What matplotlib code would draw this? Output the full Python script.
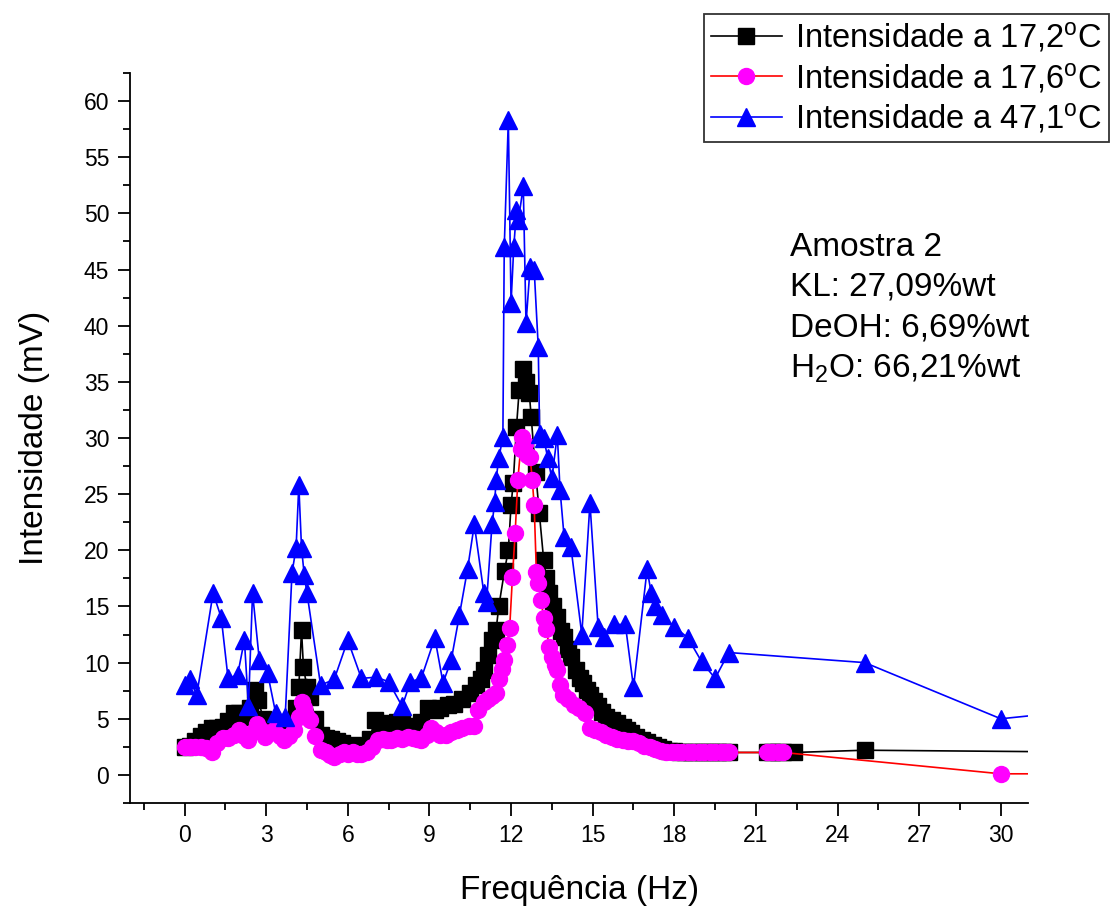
import matplotlib
matplotlib.use("Agg")
import matplotlib.pyplot as plt
from matplotlib.ticker import MultipleLocator

plt.rcParams['font.family'] = ['Liberation Sans', 'DejaVu Sans']
plt.rcParams['mathtext.fontset'] = 'custom'
plt.rcParams['mathtext.rm'] = 'Liberation Sans'
plt.rcParams['mathtext.it'] = 'Liberation Sans:italic'

# Intensidade a 17,2 oC (black squares)
freq_172 = [0.0, 0.2, 0.4, 0.6, 0.8, 1.0, 1.2, 1.4, 1.6, 1.8, 2.0, 2.2, 2.4, 2.6, 2.7,
            2.9, 3.1, 3.3, 3.5, 3.7, 3.9, 4.1, 4.2, 4.3, 4.37, 4.5, 4.6, 4.8, 5.0, 5.2,
            5.4, 5.6, 5.8, 6.0, 6.2, 6.4, 6.6, 6.8, 7.0, 7.2, 7.4, 7.6, 7.8, 8.0, 8.2,
            8.45, 8.7, 8.95, 9.2, 9.4, 9.7, 9.9, 10.2, 10.5, 10.7, 10.9, 11.0, 11.15, 11.3, 11.45,
            11.55, 11.76, 11.9, 12.0, 12.08, 12.2, 12.3, 12.45, 12.55, 12.67, 12.74, 12.9, 13.04, 13.2, 13.3,
            13.4, 13.55, 13.7, 13.85, 13.95, 14.1, 14.2, 14.4, 14.55, 14.65, 14.8, 14.9, 15.05, 15.2, 15.35,
            15.5, 15.7, 15.9, 16.1, 16.25, 16.4, 16.6, 16.8, 17.0, 17.2, 17.4, 17.6, 17.8, 18.0, 18.2,
            18.4, 18.6, 18.8, 19.0, 19.2, 19.4, 19.6, 19.8, 20.0, 21.4, 21.6, 21.8, 22.0, 22.4, 25.0,
            40.0]
int_172 = [2.5, 2.6, 3.0, 3.5, 3.8, 4.2, 4.2, 4.3, 4.8, 5.5, 5.5, 5.2, 6.0, 7.6, 6.7,
           5.0, 4.3, 4.6, 4.0, 4.4, 4.8, 6.0, 7.8, 12.9, 9.6, 7.8, 6.9, 5.0, 3.6, 3.3,
           3.2, 3.0, 2.8, 2.6, 2.7, 2.5, 2.6, 3.2, 4.9, 4.6, 4.3, 4.5, 4.7, 4.6, 4.3,
           4.4, 4.7, 6.0, 5.8, 6.0, 6.2, 6.3, 6.8, 7.3, 8.0, 8.5, 9.3, 10.7, 12.0, 12.9,
           15.0, 18.2, 20.0, 24.0, 26.0, 31.0, 34.3, 36.1, 35.0, 34.0, 31.9, 27.0, 23.3, 19.1, 17.5,
           16.2, 15.0, 14.1, 12.8, 12.3, 11.2, 10.5, 9.3, 8.6, 8.2, 7.6, 7.1, 6.6, 6.1, 5.6,
           5.2, 4.9, 4.6, 4.3, 4.0, 3.7, 3.4, 3.1, 2.9, 2.7, 2.5, 2.3, 2.1, 2.1, 2.0,
           2.0, 2.0, 2.0, 2.0, 2.0, 2.0, 2.0, 2.0, 2.0, 2.0, 2.0, 2.0, 2.0, 2.0, 2.2,
           1.9]

# Intensidade a 17,6 oC (magenta circles, red line)
freq_176 = [0.0, 0.2, 0.4, 0.6, 0.8, 1.0, 1.2, 1.4, 1.6, 1.8, 2.0, 2.2, 2.35, 2.5, 2.65,
            2.8, 2.95, 3.1, 3.3, 3.5, 3.67, 3.85, 4.04, 4.2, 4.3, 4.4, 4.48, 4.6, 4.8, 5.0,
            5.2, 5.35, 5.5, 5.7, 5.85, 6.0, 6.2, 6.35, 6.5, 6.7, 6.9, 7.1, 7.3, 7.45, 7.6,
            7.8, 8.0, 8.2, 8.4, 8.55, 8.7, 8.9, 9.07, 9.25, 9.4, 9.6, 9.8, 10.0, 10.2, 10.45,
            10.65, 10.8, 11.0, 11.15, 11.3, 11.45, 11.55, 11.65, 11.75, 11.85, 11.95, 12.05, 12.15, 12.25, 12.35,
            12.42, 12.5, 12.6, 12.7, 12.78, 12.85, 12.93, 13.0, 13.1, 13.2, 13.3, 13.4, 13.5, 13.6, 13.7,
            13.8, 13.9, 14.1, 14.3, 14.5, 14.7, 14.9, 15.1, 15.3, 15.5, 15.7, 15.9, 16.1, 16.3, 16.5,
            16.7, 16.9, 17.1, 17.3, 17.5, 17.7, 17.9, 18.1, 18.3, 18.5, 18.7, 18.9, 19.1, 19.3, 19.5,
            19.7, 19.85, 20.0, 21.4, 21.6, 21.8, 22.0, 30.0, 40.0]
int_176 = [2.5, 2.5, 2.5, 2.5, 2.4, 2.0, 2.8, 3.3, 3.3, 3.6, 4.0, 3.5, 3.1, 3.8, 4.5,
           4.0, 3.4, 3.7, 4.0, 3.5, 3.1, 3.5, 4.0, 5.2, 6.5, 6.0, 5.3, 4.9, 3.5, 2.2,
           2.0, 1.8, 1.6, 1.9, 2.0, 1.9, 2.0, 1.9, 1.9, 2.0, 2.5, 3.1, 3.2, 3.1, 3.1,
           3.3, 3.2, 3.4, 3.3, 3.2, 3.1, 3.6, 4.2, 3.8, 3.6, 3.6, 3.8, 4.0, 4.2, 4.4,
           4.4, 5.8, 6.5, 6.8, 7.0, 7.3, 8.5, 9.4, 10.2, 11.6, 13.1, 17.6, 21.5, 26.3, 29.0,
           30.1, 29.5, 28.5, 28.3, 26.3, 24.0, 18.1, 17.1, 15.6, 14.0, 13.0, 11.4, 10.5, 9.8, 9.3,
           8.0, 7.1, 6.8, 6.2, 6.0, 5.5, 4.2, 4.0, 3.8, 3.6, 3.4, 3.2, 3.1, 3.0, 3.0,
           2.8, 2.6, 2.5, 2.3, 2.1, 2.0, 2.0, 2.0, 2.0, 2.0, 2.0, 2.0, 2.0, 2.0, 2.0,
           2.0, 2.0, 2.0, 2.0, 2.0, 2.0, 2.0, 0.1, 0.1]

# Intensidade a 47,1 oC (blue triangles)
freq_471 = [0.0, 0.2, 0.45, 1.05, 1.35, 1.6, 1.95, 2.2, 2.35, 2.5, 2.75, 3.05, 3.35, 3.7, 3.95,
            4.1, 4.2, 4.3, 4.4, 4.5, 5.0, 5.5, 6.0, 6.5, 7.05, 7.5, 8.0, 8.3, 8.7, 9.2,
            9.5, 9.8, 10.1, 10.4, 10.65, 11.0, 11.1, 11.3, 11.4, 11.45, 11.55, 11.7, 11.75, 11.9, 12.0,
            12.1, 12.2, 12.27, 12.45, 12.55, 12.7, 12.85, 13.0, 13.05, 13.2, 13.35, 13.5, 13.7, 13.8, 13.95,
            14.2, 14.6, 14.9, 15.2, 15.4, 15.8, 16.2, 16.5, 17.0, 17.15, 17.3, 17.55, 18.0, 18.5, 19.0,
            19.5, 20.0, 25.0, 30.0, 40.0]
int_471 = [8.0, 8.5, 7.1, 16.2, 14.0, 8.6, 8.9, 12.0, 6.1, 16.2, 10.2, 9.1, 5.5, 5.2, 18.0,
           20.2, 25.8, 20.2, 17.8, 16.2, 8.0, 8.5, 12.0, 8.6, 8.7, 8.3, 6.1, 8.3, 8.6, 12.2,
           8.2, 10.2, 14.2, 18.3, 22.3, 16.2, 15.4, 22.3, 24.3, 26.3, 28.2, 30.1, 47.0, 58.3, 42.0,
           47.0, 50.3, 49.4, 52.4, 40.2, 45.2, 45.0, 38.1, 30.4, 30.0, 28.2, 26.4, 30.3, 25.4, 21.2,
           20.3, 12.5, 24.2, 13.2, 12.3, 13.4, 13.4, 7.8, 18.3, 16.2, 15.0, 14.2, 13.2, 12.2, 10.1,
           8.6, 10.9, 10.0, 5.0, 7.5]

labels = ['Intensidade a 17,2$^{\\mathrm{o}}$C',
          'Intensidade a 17,6$^{\\mathrm{o}}$C',
          'Intensidade a 47,1$^{\\mathrm{o}}$C']

sample_text = 'Amostra 2\nKL: 27,09%wt\nDeOH: 6,69%wt\nH$_{\\mathrm{2}}$O: 66,21%wt'

fig = plt.figure(figsize=(11.12, 9.09), dpi=100)
ax = fig.add_axes([0.117, 0.1166, 0.8075, 0.8031])

ax.plot(freq_172, int_172, color='black', lw=1.2, marker='s', ms=11,
        markerfacecolor='black', markeredgecolor='black', label=labels[0])
ax.plot(freq_176, int_176, color='red', lw=1.2, marker='o', ms=11.5,
        markerfacecolor='magenta', markeredgecolor='magenta', label=labels[1])
ax.plot(freq_471, int_471, color='blue', lw=1.2, marker='^', ms=12.5,
        markerfacecolor='blue', markeredgecolor='blue', label=labels[2])

ax.set_xlim(-2, 31)
ax.set_ylim(-2.5, 62.5)
ax.xaxis.set_major_locator(MultipleLocator(3))
ax.xaxis.set_minor_locator(MultipleLocator(1.5))
ax.yaxis.set_major_locator(MultipleLocator(5))
ax.yaxis.set_minor_locator(MultipleLocator(2.5))

for side in ['top', 'right']:
    ax.spines[side].set_visible(False)
for side in ['left', 'bottom']:
    ax.spines[side].set_linewidth(1.3)

ax.tick_params(which='major', direction='out', length=9, width=1.3, labelsize=16.5, pad=6)
ax.tick_params(which='minor', direction='out', length=5, width=1.3)

ax.set_xlabel('Frequência (Hz)', fontsize=24, labelpad=20)
ax.set_ylabel('Intensidade (mV)', fontsize=24, labelpad=24)

leg = fig.legend(loc='upper right', bbox_to_anchor=(0.997, 0.985), fontsize=23.5,
                 frameon=True, fancybox=False, edgecolor='black', handlelength=2.2,
                 handletextpad=0.4, labelspacing=0.2, borderpad=0.2, borderaxespad=0)
leg.get_frame().set_linewidth(1.3)

fig.text(0.710, 0.745, sample_text, fontsize=24, va='top', ha='left', linespacing=1.38)

fig.savefig('out.png', dpi=100)
